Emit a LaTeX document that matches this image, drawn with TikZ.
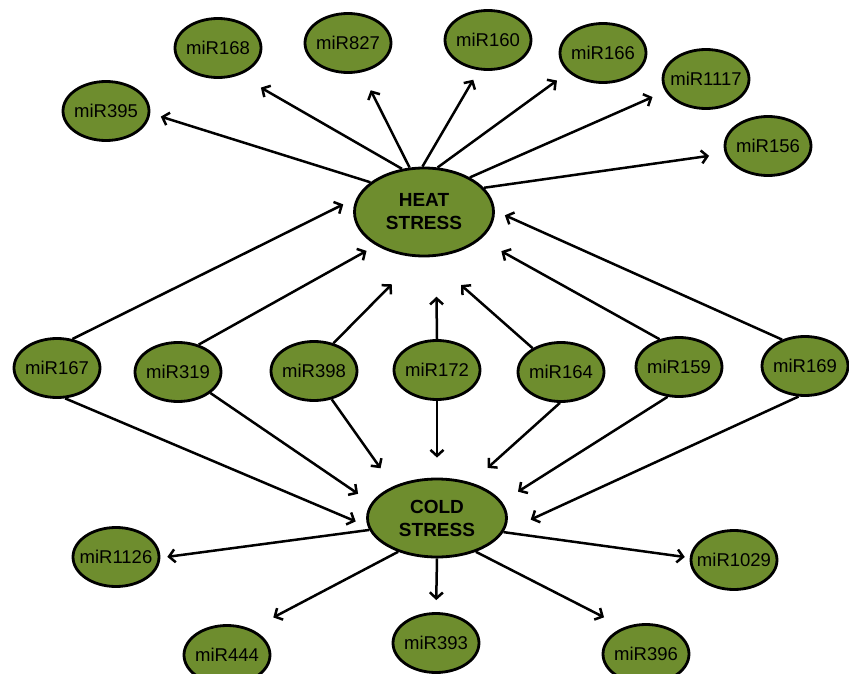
\documentclass[tikz,border=0pt]{standalone}
\usepackage{fontspec}
\setmainfont{Liberation Sans}
\usetikzlibrary{shapes.geometric,arrows.meta}
\definecolor{mirgreen}{RGB}{110,141,46}
\newcommand{\mirtxt}[1]{\makebox[0pt]{#1}}
\begin{document}
\begin{tikzpicture}[x=1pt,y=-1pt,
  mir/.style={ellipse, draw=black, line width=2.8pt, fill=mirgreen,
    minimum width=86pt, minimum height=59pt, inner sep=0pt,
    font=\fontsize{18.5}{20}\selectfont},
  stress/.style={mir, minimum width=139pt, minimum height=86pt,
    font=\fontsize{19}{23}\selectfont\bfseries, align=center},
  arr/.style={-{Straight Barb[length=6pt,width=13pt]}, line width=2.5pt}]
\useasboundingbox (0,0) rectangle (849,674);
% main nodes
\node[stress, minimum height=88pt] (heat) at (424,212) {HEAT\\STRESS};
\node[stress, minimum height=78pt] (cold) at (437,518) {COLD\\STRESS};
% top nodes
\node[mir] (m395) at (106,111) {\mirtxt{miR395}};
\node[mir] (m168) at (218,48) {\mirtxt{miR168}};
\node[mir] (m827) at (348,43) {\mirtxt{miR827}};
\node[mir] (m160) at (488,40) {\mirtxt{miR160}};
\node[mir] (m166) at (603,53) {\mirtxt{miR166}};
\node[mir] (m1117) at (706,79) {\mirtxt{miR1117}};
\node[mir] (m156) at (768,146) {\mirtxt{miR156}};
% middle nodes
\node[mir] (m167) at (57,368) {\mirtxt{miR167}};
\node[mir] (m319) at (178,372) {\mirtxt{miR319}};
\node[mir] (m398) at (314,371) {\mirtxt{miR398}};
\node[mir] (m172) at (437,370) {\mirtxt{miR172}};
\node[mir] (m164) at (561,372) {\mirtxt{miR164}};
\node[mir] (m159) at (679,367) {\mirtxt{miR159}};
\node[mir] (m169) at (805,366) {\mirtxt{miR169}};
% bottom nodes
\node[mir] (m1126) at (116,557) {\mirtxt{miR1126}};
\node[mir] (m444) at (227,655) {\mirtxt{miR444}};
\node[mir] (m393) at (436,643) {\mirtxt{miR393}};
\node[mir] (m396) at (646,654) {\mirtxt{miR396}};
\node[mir] (m1029) at (734,560) {\mirtxt{miR1029}};
% heat outgoing
\draw[arr, shorten >=11pt] (heat.151) -- (m395.357);
\draw[arr, shorten >=25pt] (heat.117) -- (m168.308);
\draw[arr, shorten >=20pt] (heat.108) -- (m827.295);
\draw[arr, shorten >=11pt] (heat.92) -- (m160.253);
\draw[arr, shorten >=14pt] (heat.73) -- (m166.209);
\draw[arr, shorten >=14pt] (heat.37) -- (m1117.197);
\draw[arr, shorten >=16pt] (heat.22) -- (m156.190);
% heat incoming
\draw[arr, shorten >=15pt] (m167.62) -- (heat.168);
\draw[arr, shorten >=11pt] (m319.53) -- (heat.215);
\draw[arr, shorten >=38pt] (m398.55) -- (heat.263);
\draw[arr, shorten >=40pt] (m172.90) -- (heat.285);
\draw[arr, shorten >=42pt] (m164.140) -- (heat.277);
\draw[arr, shorten >=24pt] (m159.125) -- (heat.334);
\draw[arr, shorten >=11pt] (m169.131) -- (heat.1);
% cold incoming
\draw[arr, shorten >=13pt] (m167.285) -- (cold.187);
\draw[arr, shorten >=16pt] (m319.327) -- (cold.167);
\draw[arr, shorten >=22pt] (m398.302) -- (cold.144);
\draw[arr, shorten >=20pt] (m172.270) -- (cold.90);
\draw[arr, shorten >=22pt] (m164.268) -- (cold.46);
\draw[arr, shorten >=19pt] (m159.249) -- (cold.14);
\draw[arr, shorten >=30pt] (m169.258) -- (cold.348);
% cold outgoing
\draw[arr, shorten >=7pt] (cold.190) -- (m1126.359);
\draw[arr, shorten >=25pt] (cold.221) -- (m444.47);
\draw[arr, shorten >=12pt] (cold.270) -- (m393.90);
\draw[arr, shorten >=22pt] (cold.319) -- (m396.130);
\draw[arr, shorten >=5pt] (cold.348) -- (m1029.177);
\end{tikzpicture}
\end{document}
